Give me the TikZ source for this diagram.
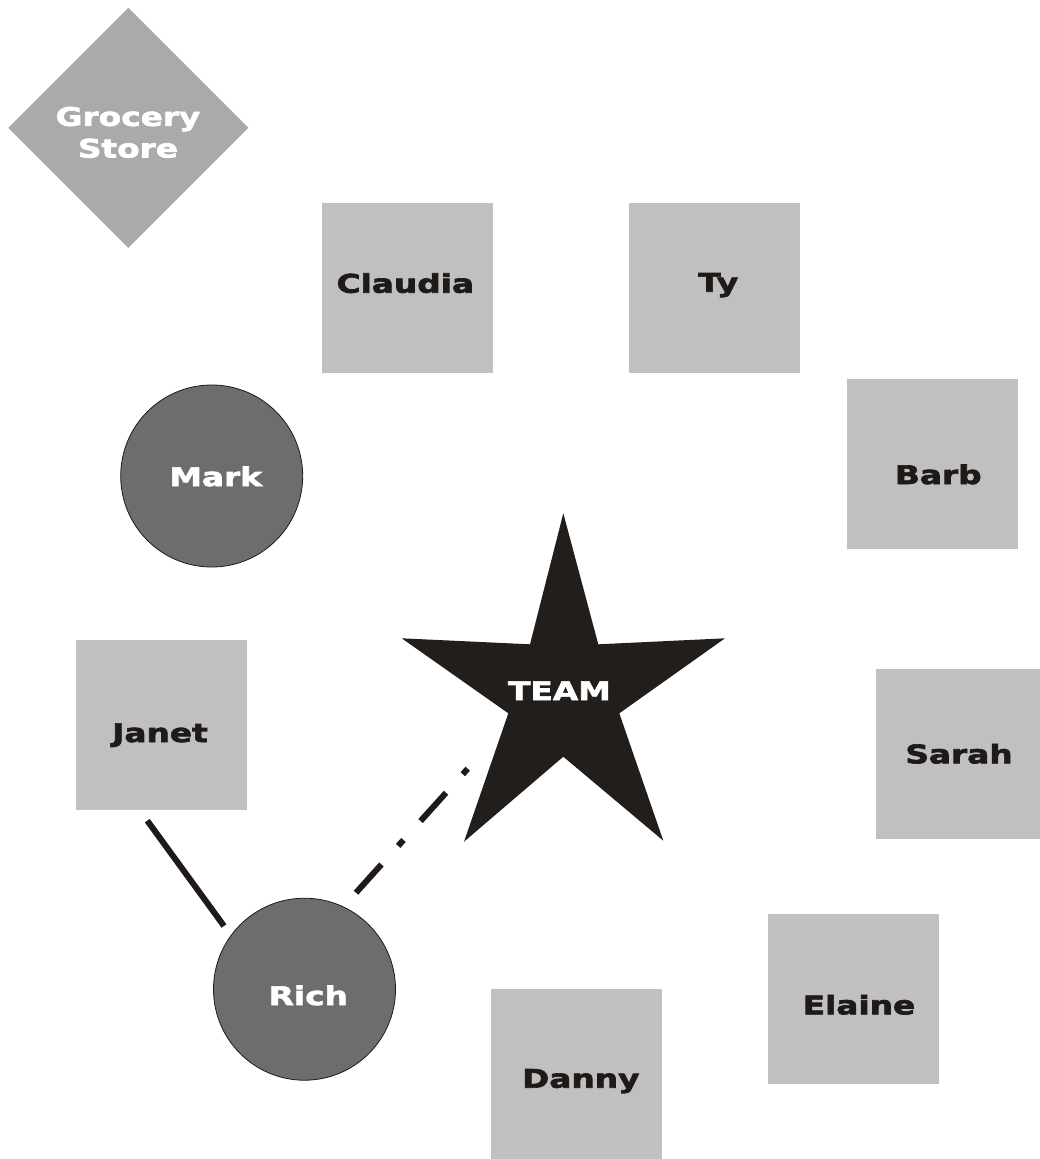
\documentclass[tikz,border=0pt]{standalone}
\usepackage{fontspec}
\newfontfamily\labfont{DejaVu Sans}[FakeStretch=1.28,FakeBold=2.5]
\usetikzlibrary{shapes.geometric,calc}
\definecolor{boxgray}{HTML}{C0C0C0}
\definecolor{diagray}{HTML}{AAAAAA}
\definecolor{circgray}{HTML}{6F6D6B}
\definecolor{inkblack}{HTML}{1F1A17}
\definecolor{starblack}{HTML}{221E1B}
\begin{document}
\begin{tikzpicture}[x=1pt,y=-1pt,
  sq/.style={rectangle,fill=boxgray,minimum width=171,minimum height=170,inner sep=0,outer sep=0},
  person/.style={circle,fill=circgray,draw=inkblack,line width=0.8pt,minimum size=182,inner sep=0,outer sep=0},
  shop/.style={diamond,fill=diagray,minimum width=240,minimum height=240,inner sep=0,outer sep=0},
  lab/.style={font=\labfont\bfseries\fontsize{25.6}{31.7}\selectfont,inner sep=0,outer sep=0,anchor=base,text=inkblack},
  wlab/.style={lab,text=white},
  solidconn/.style={draw=inkblack,line width=6pt},
  dashconn/.style={draw=inkblack,line width=6pt,dash pattern=on 38pt off 25pt on 8pt off 25.5pt},
]
\useasboundingbox (0,0) rectangle (1040,1159);

% shapes
\node[shop] (grocery) at (128.3,127.8) {};
\node[sq] (claudia) at (407.5,288) {};
\node[sq] (ty) at (714.5,288) {};
\node[sq] (barb) at (932.5,464) {};
\node[sq] (janet) at (161.5,725) {};
\node[sq] (sarah) at (961.5,754) {};
\node[sq] (elaine) at (853.5,999) {};
\node[sq] (danny) at (576.5,1073.5) {};
\node[person] (mark) at (211.7,476) {};
\node[person] (rich) at (304.5,989.2) {};

% star
\fill[starblack] (563.3,513.3) -- (598.3,644.3) -- (725,638.3) -- (619.3,713.3)
  -- (663.3,840.7) -- (563.3,756.7) -- (464,841.7) -- (508.3,713.3)
  -- (401.7,638.3) -- (530,644.3) -- cycle;

% labels
\node[wlab,anchor=center,align=center] (grocerytxt) at (128,132.4) {Grocery\\Store};
\node[lab] (claudiatxt) at (405.3,292.7) {Claudia};
\node[lab] (tytxt) at (718.3,291.7) {Ty};
\node[lab] (barbtxt) at (938.3,484) {Barb};
\node[lab] (sarahtxt) at (959,763.3) {Sarah};
\node[lab] (elainetxt) at (859,1014.3) {Elaine};
\node[lab] (dannytxt) at (580.8,1087.7) {Danny};
\node[lab] (janettxt) at (160,742) {Janet};
\node[wlab] (marktxt) at (215.7,486) {Mark};
\node[wlab] (richtxt) at (308.3,1005) {Rich};
\node[wlab] (team) at (559.5,700) {TEAM};

% connectors
\draw[solidconn] ($(janet)+(-14.2,95.7)$) -- ($(rich)+(-80.5,-63.2)$);
\draw[dashconn] ($(rich)+(51.5,-96.5)$) -- ($(team.base)+(-91.8,68.7)$);
\end{tikzpicture}
\end{document}
